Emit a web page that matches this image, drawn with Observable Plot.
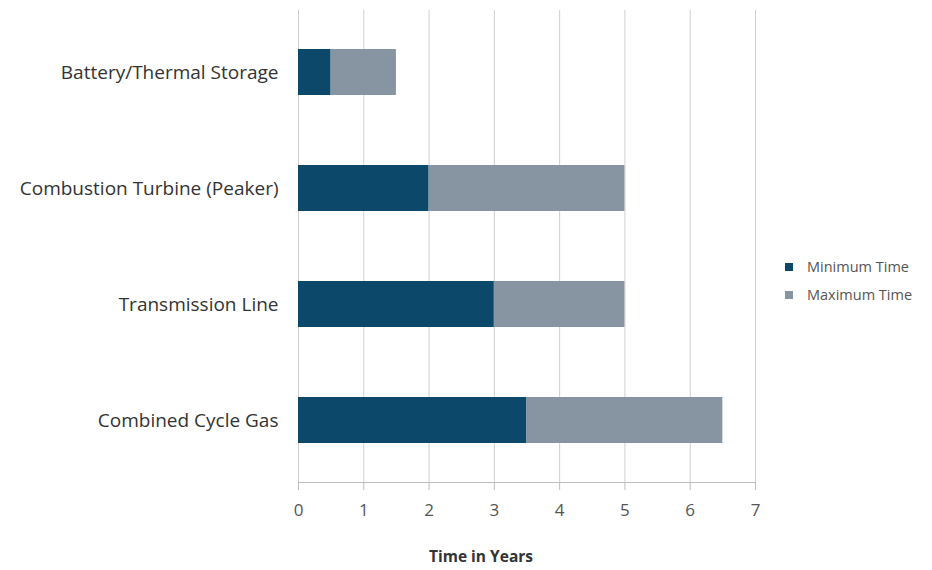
<!DOCTYPE html>
<html>
<head>
<meta charset="utf-8">
<script src="https://cdn.jsdelivr.net/npm/d3@7"></script>
<script src="https://cdn.jsdelivr.net/npm/@observablehq/plot@0.6"></script>
<style>
  body { margin: 0; background: #fff; }
  #wrap { position: relative; width: 932px; height: 570px; font-family: "Open Sans", sans-serif; }
  .leg { position: absolute; left: 785px; font-size: 14.5px; color: #555; display: flex; align-items: center; }
  .sw { width: 8px; height: 8px; display: inline-block; margin-right: 14px; }
</style>
</head>
<body>
<div id="wrap"></div>
<script>
const categories = ["Battery/Thermal Storage", "Combustion Turbine (Peaker)", "Transmission Line", "Combined Cycle Gas"];
const minTime = [0.5, 2, 3, 3.5];
const maxTime = [1.5, 5, 5, 6.5];
const xTicks = [0, 1, 2, 3, 4, 5, 6, 7];
const seriesNames = ["Minimum Time", "Maximum Time"];
const colors = ["#0b4869", "#8795a3"];

const rows = categories.map((c, i) => ({cat: c, min: minTime[i], max: maxTime[i]}));

const chart = Plot.plot({
  width: 932,
  height: 570,
  marginTop: 10,
  marginBottom: 88,
  marginLeft: 298,
  marginRight: 177,
  style: {fontFamily: "Open Sans, sans-serif", background: "#fff"},
  x: {domain: [0, 7]},
  y: {domain: categories, paddingInner: 0.6, paddingOuter: 0.33},
  marks: [
    Plot.gridX(xTicks, {stroke: "#cfcfcf", strokeOpacity: 1}),
    Plot.frame({anchor: "bottom", stroke: "#bdbdbd"}),
    Plot.barX(rows, {y: "cat", x1: 0, x2: "min", fill: colors[0]}),
    Plot.barX(rows, {y: "cat", x1: "min", x2: "max", fill: colors[1]}),
    Plot.axisX(xTicks, {tickSize: 8, tickPadding: 13, fontSize: 17, stroke: "#bdbdbd", color: "#555", label: null}),
    Plot.axisY({tickSize: 0, tickPadding: 20, fontSize: 19, color: "#333", label: null}),
    Plot.text(["Time in Years"], {frameAnchor: "bottom", dx: -46, dy: 79, fontSize: 15.5, fontWeight: "bold", fill: "#333"})
  ]
});
const wrap = document.getElementById("wrap");
wrap.appendChild(chart);
[268, 296].forEach((top, i) => {
  const d = document.createElement("div");
  d.className = "leg";
  d.style.top = (top - 11) + "px";
  d.innerHTML = `<span class="sw" style="background:${colors[i]}"></span>${seriesNames[i]}`;
  wrap.appendChild(d);
});
</script>
</body>
</html>
